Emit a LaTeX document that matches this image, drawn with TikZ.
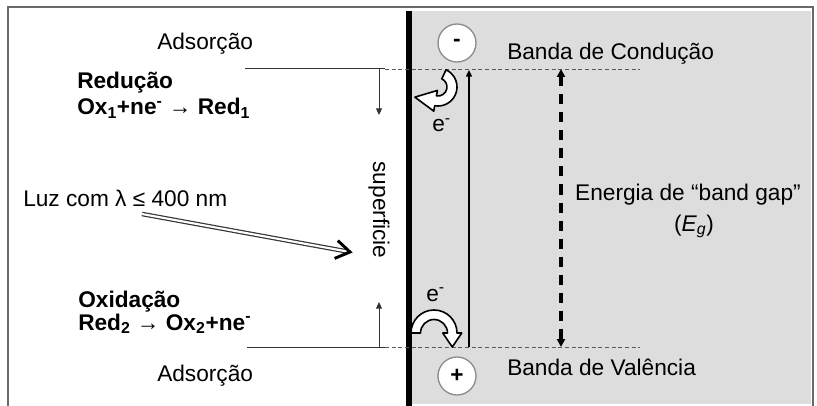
\documentclass[tikz,border=0pt]{standalone}
\usepackage{fontspec}
\setmainfont{Liberation Sans}
\usetikzlibrary{arrows.meta,calc}
\definecolor{bandgray}{RGB}{221,221,221}
\definecolor{framegray}{RGB}{105,105,105}
\definecolor{circgray}{RGB}{140,140,140}
\begin{document}
\begin{tikzpicture}[x=0.75pt,y=-0.75pt,
  font=\fontsize{17}{20}\selectfont,
  txt/.style={inner sep=0pt, anchor=base west},
  btxt/.style={txt, font=\fontsize{17}{20}\selectfont\bfseries},
  chg/.style={circle, draw=circgray, fill=white, line width=1pt, minimum size=28.5pt, inner sep=0pt, font=\fontsize{17}{20}\selectfont\bfseries},
  solidline/.style={line width=0.75pt, black!80},
  dashline/.style={line width=0.7pt, black!65, dash pattern=on 3pt off 2pt},
  smallhead/.style={-{Triangle[length=5pt,width=4.5pt]}},
  hollow/.style={fill=white, draw=black, line width=1.2pt, line join=round}
]
\useasboundingbox (0,0) rectangle (817,406);
% frame and semiconductor
\fill[bandgray] (412,11) rectangle (811,404);
\draw[framegray, line width=0.8pt] (8,412) -- (8,7) -- (813,7) -- (813,412);
\coordinate (surfT) at (408.5,11);
\coordinate (surfB) at (408.5,406);
\draw[line width=4.5pt] (surfT) -- (surfB);

% band lines
\coordinate (cbL) at (245,69);
\coordinate (cbM) at (385,69);
\coordinate (cbR) at (640,69);
\coordinate (vbL) at (247,347);
\coordinate (vbM) at (385,347);
\coordinate (vbR) at (640,347);
\draw[solidline] (cbL) -- (cbM);
\draw[dashline] (cbM) -- (cbR);
\draw[solidline] (vbL) -- (vbM);
\draw[dashline] (vbM) -- (vbR);

% adsorption arrows
\coordinate (rdS) at (379,69);
\coordinate (rdE) at (379,115);
\coordinate (oxS) at (379,347);
\coordinate (oxE) at (379,302);
\draw[solidline, smallhead] (rdS) -- (rdE);
\draw[solidline, smallhead] (oxS) -- (oxE);

% excitation arrow
\coordinate (exS) at (469,347);
\coordinate (exE) at (469,70);
\draw[line width=1pt, smallhead] (exS) -- (exE);

% band gap arrow
\coordinate (bgT) at (561,69);
\coordinate (bgB) at (561,347);
\draw[line width=2.6pt, dash pattern=on 7.5pt off 6pt,
  {Triangle[length=6pt,width=6pt]}-{Triangle[length=6pt,width=6pt]}] (bgT) -- (bgB);

% charges
\node[chg] (neg) at (457,43) {-};
\node[chg] (pos) at (457,376) {+};

% texts
\node[txt] (ads1) at (157,50) {Adsorção};
\node[btxt] (red) at (77,89) {Redução};
\node[btxt] (eq1) at (77,115) {Ox\textsubscript{1}+ne\textsuperscript{-} → Red\textsubscript{1}};
\node[btxt] (oxi) at (78,307) {Oxidação};
\node[btxt] (eq2) at (78,330) {Red\textsubscript{2} → Ox\textsubscript{2}+ne\textsuperscript{-}};
\node[txt] (ads2) at (157,381) {Adsorção};
\node[txt] (luz) at (23,206) {Luz com λ ≤ 400 nm};
\node[txt] (bc) at (507,60) {Banda de Condução};
\node[txt] (bv) at (507,375) {Banda de Valência};
\node[inner sep=0pt, anchor=base] (eg) at (688,200) {Energia de “band gap”};
\node[inner sep=0pt, anchor=base] (egs) at (694,231) {(\textit{E\textsubscript{g}})};
\node[inner sep=0pt, rotate=-90] (sup) at (379,210) {superficie};
\node[txt] (e1) at (432,132) {e\textsuperscript{-}};
\node[txt] (e2) at (426,301) {e\textsuperscript{-}};

% light arrow
\coordinate (luzS) at (142,214);
\coordinate (luzE) at (350,252);
\draw[double=white, double distance=1.6pt, line width=0.9pt, draw=black!80, shorten >=3pt] (luzS) -- (luzE);
\draw[line width=2.2pt, miter limit=10] (336.2,249.5) ++(1.6,-8.9) -- (luzE) -- (334.6,258.4);

% hollow curved arrows
\coordinate (hc1) at (438,87);
\filldraw[hollow]
  ($(hc1)+(-65:19)$) arc[start angle=-65, end angle=100, radius=19]
  -- ($(hc1)+(100:24.5)$) -- ($(hc1)+(100:14)+(190:21)$) -- ($(hc1)+(100:3.5)$)
  -- ($(hc1)+(100:9)$) arc[start angle=100, end angle=-65, radius=9] -- cycle;
\coordinate (hc2) at (434,333);
\filldraw[hollow]
  ($(hc2)+(180:23)$) arc[start angle=180, end angle=360, radius=23]
  -- ($(hc2)+(0:27.75)$) -- ($(hc2)+(0:18.25)+(90:14)$) -- ($(hc2)+(0:8.75)$)
  -- ($(hc2)+(0:13.5)$) arc[start angle=360, end angle=180, radius=13.5] -- cycle;
\end{tikzpicture}
\end{document}
